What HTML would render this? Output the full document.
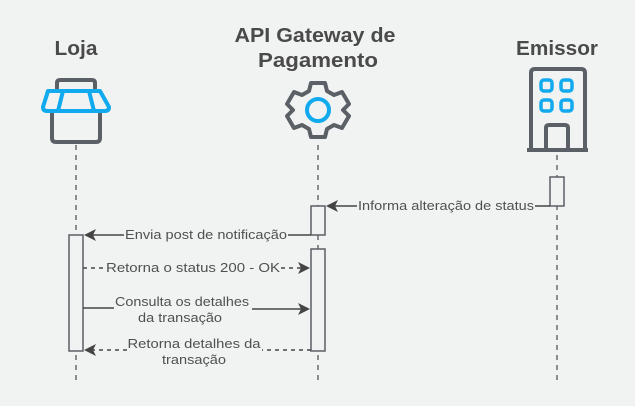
<!DOCTYPE html>
<html><head><meta charset="utf-8"><style>
html,body{margin:0;padding:0;background:#f1f2f2;}
svg{display:block;font-family:"Liberation Sans",sans-serif;}
</style></head><body>
<svg width="635" height="406" viewBox="0 0 635 406">
<rect width="635" height="406" fill="#f1f2f2"/>
<g fill="#4a4a4a" font-weight="bold" font-size="20" text-anchor="middle" lengthAdjust="spacingAndGlyphs">
<text x="76" y="55" textLength="43" lengthAdjust="spacingAndGlyphs">Loja</text>
<text x="315" y="42" textLength="161" lengthAdjust="spacingAndGlyphs">API Gateway de</text>
<text x="318" y="67" textLength="120" lengthAdjust="spacingAndGlyphs">Pagamento</text>
<text x="557" y="55" textLength="82" lengthAdjust="spacingAndGlyphs">Emissor</text>
</g>
<g stroke="#555" stroke-width="1.3" stroke-dasharray="5,5">
<line x1="76" y1="145" x2="76" y2="385"/>
<line x1="318" y1="145" x2="318" y2="385"/>
<line x1="557" y1="155" x2="557" y2="385"/>
</g>
<g fill="none" stroke-width="4" stroke-linejoin="round" stroke-linecap="round">
<path d="M57 88 V83 Q57 80 60 80 H92 Q95 80 95 83 V88" stroke="#5b5f66"/>
<path d="M52 114 V138 Q52 142 56 142 H96 Q100 142 100 138 V114" stroke="#5b5f66"/>
<path d="M48 91 H100 L109 107 Q109 111 105 111 H47 Q43 111 43 107 Z M63 91 L58 111 M89 91 L94 111" stroke="#11aaee"/>
</g>
<g fill="none" stroke-width="4" stroke-linejoin="round">
<path stroke="#5b5f66" d="M311 83 H325 L327 91 L334 95 L342 92 L349 104 L343 110 L349 116 L342 128 L334 125 L327 129 L325 137 H311 L309 129 L302 125 L294 128 L287 116 L293 110 L287 104 L294 92 L302 95 L309 91 Z"/>
<circle cx="318" cy="110" r="11" stroke="#11aaee"/>
</g>
<g fill="none" stroke-width="4" stroke-linejoin="round">
<path stroke="#5b5f66" d="M531 150 V73 Q531 69 535 69 H581 Q585 69 585 73 V150 M527 150 H588 M546 150 V128 Q546 125 549 125 H565 Q568 125 568 128 V150"/>
<g stroke="#11aaee" stroke-width="3.5">
<rect x="541" y="80" width="11" height="11" rx="3"/><rect x="561" y="80" width="11" height="11" rx="3"/>
<rect x="541" y="100" width="11" height="11" rx="3"/><rect x="561" y="100" width="11" height="11" rx="3"/>
</g>
</g>
<g fill="#f1f2f2" stroke="#5b5f66" stroke-width="1.5">
<rect x="550" y="177" width="14" height="29"/>
<rect x="311" y="206" width="14" height="29"/>
<rect x="311" y="249" width="14" height="102"/>
<rect x="69" y="235" width="14" height="116"/>
</g>
<g stroke="#444" stroke-width="1.5" fill="none">
<line x1="550" y1="206" x2="535" y2="206"/><line x1="357" y1="206" x2="330" y2="206"/>
<line x1="311" y1="235" x2="288" y2="235"/><line x1="124" y1="235" x2="88" y2="235"/>
<line x1="83" y1="268" x2="105" y2="268" stroke-dasharray="4,4"/><line x1="281" y1="268" x2="305" y2="268" stroke-dasharray="4,4"/>
<line x1="83" y1="308" x2="114" y2="308"/><line x1="252" y1="309" x2="305" y2="309"/>
<line x1="311" y1="350" x2="262" y2="350" stroke-dasharray="4,4"/><line x1="127" y1="350" x2="88" y2="350" stroke-dasharray="4,4"/>
</g>
<g fill="#444">
<path d="M326 206 L338 200 L335 206 L338 212 Z"/>
<path d="M84 235 L96 229 L93 235 L96 241 Z"/>
<path d="M310 268 L298 262 L301 268 L298 274 Z"/>
<path d="M310 309 L298 303 L301 309 L298 315 Z"/>
<path d="M84 350 L96 344 L93 350 L96 356 Z"/>
</g>
<g fill="#505050" font-size="13" text-anchor="middle">
<text x="446" y="210" textLength="176" lengthAdjust="spacingAndGlyphs">Informa alteração de status</text>
<text x="206" y="239" textLength="162" lengthAdjust="spacingAndGlyphs">Envia post de notificação</text>
<text x="193" y="272" textLength="174" lengthAdjust="spacingAndGlyphs">Retorna o status 200 - OK</text>
<text x="182" y="306" textLength="134" lengthAdjust="spacingAndGlyphs">Consulta os detalhes</text>
<text x="180" y="322" textLength="84" lengthAdjust="spacingAndGlyphs">da transação</text>
<text x="194" y="348" textLength="133" lengthAdjust="spacingAndGlyphs">Retorna detalhes da</text>
<text x="194" y="364" textLength="64" lengthAdjust="spacingAndGlyphs">transação</text>
</g>
</svg>
</body></html>
